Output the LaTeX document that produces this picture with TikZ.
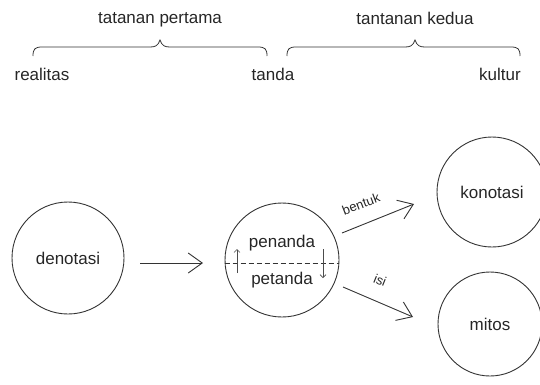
\documentclass[tikz,border=0pt]{standalone}
\usepackage{fontspec}
\setmainfont{Liberation Sans}
\usetikzlibrary{arrows.meta}
\begin{document}
\begin{tikzpicture}[x=1pt,y=-1pt,
  every node/.style={font=\fontsize{17}{20}\selectfont, text=black!85},
  circ/.style={draw=black!80, line width=0.9pt, circle, minimum size=#1, inner sep=0pt},
  ln/.style={draw=black!80, line width=0.9pt},
  bigarrow/.style={ln, -{Straight Barb[length=14pt,width=20pt,line width=0.9pt]}},
  smallarrow/.style={draw=black!70, line width=0.6pt, -{Straight Barb[length=3pt,width=6pt]}},
  lbl/.style={font=\fontsize{13}{15}\selectfont, inner sep=1pt}]
\useasboundingbox (0,0) rectangle (540,384);

% top labels
\node (tp) at (160,20) {tatanan pertama};
\node (tk) at (415,18) {tantanan kedua};
\node (re) at (42,74) {realitas};
\node (ta) at (273,74) {tanda};
\node (ku) at (500,74) {kultur};

% braces
\draw[ln, line width=0.8pt] (33,56) .. controls (33,49) and (35,47) .. (42,47) -- (150,47)
  .. controls (155,47) and (158,46) .. (160,40) .. controls (162,46) and (165,47) .. (170,47)
  -- (258,47) .. controls (265,47) and (267,49) .. (267,56);
\draw[ln, line width=0.8pt] (287,56) .. controls (287,49) and (289,47) .. (296,47) -- (405,47)
  .. controls (410,47) and (413,46) .. (415,40) .. controls (417,46) and (420,47) .. (425,47)
  -- (511,47) .. controls (518,47) and (520,49) .. (520,56);

% circles
\node[circ=112pt] (den) at (68,258) {denotasi};
\node[circ=114pt] (pen) at (282,260) {};
\node[circ=110pt] (kon) at (492,192) {konotasi};
\node[circ=104pt] (mit) at (490,324) {mitos};

\node (pn) at (282,243) {penanda};
\node (pt) at (282,280) {petanda};

% dashed divider
\draw[ln, line width=0.7pt, dash pattern=on 5pt off 3pt] (pen.west) ++(0,3) coordinate (dl) -- (dl -| pen.east);

% small arrows
\coordinate (ua1) at (237,273);
\coordinate (ua2) at (237,249);
\coordinate (da1) at (323,249);
\coordinate (da2) at (323,278);
\draw[smallarrow] (ua1) -- (ua2);
\draw[smallarrow] (da1) -- (da2);

% main arrows
\coordinate (a1) at (140,263);
\coordinate (a2) at (203,263);
\draw[bigarrow] (a1) -- (a2);

\coordinate (b1) at (342,233);
\coordinate (b2) at (414,204);
\draw[bigarrow] (b1) -- (b2);
\node[lbl, rotate=21] (bl) at (361,204) {bentuk};

\coordinate (c1) at (343,287);
\coordinate (c2) at (413,317);
\draw[bigarrow] (c1) -- (c2);
\node[lbl, rotate=-22] (il) at (380,280) {isi};
\end{tikzpicture}
\end{document}
